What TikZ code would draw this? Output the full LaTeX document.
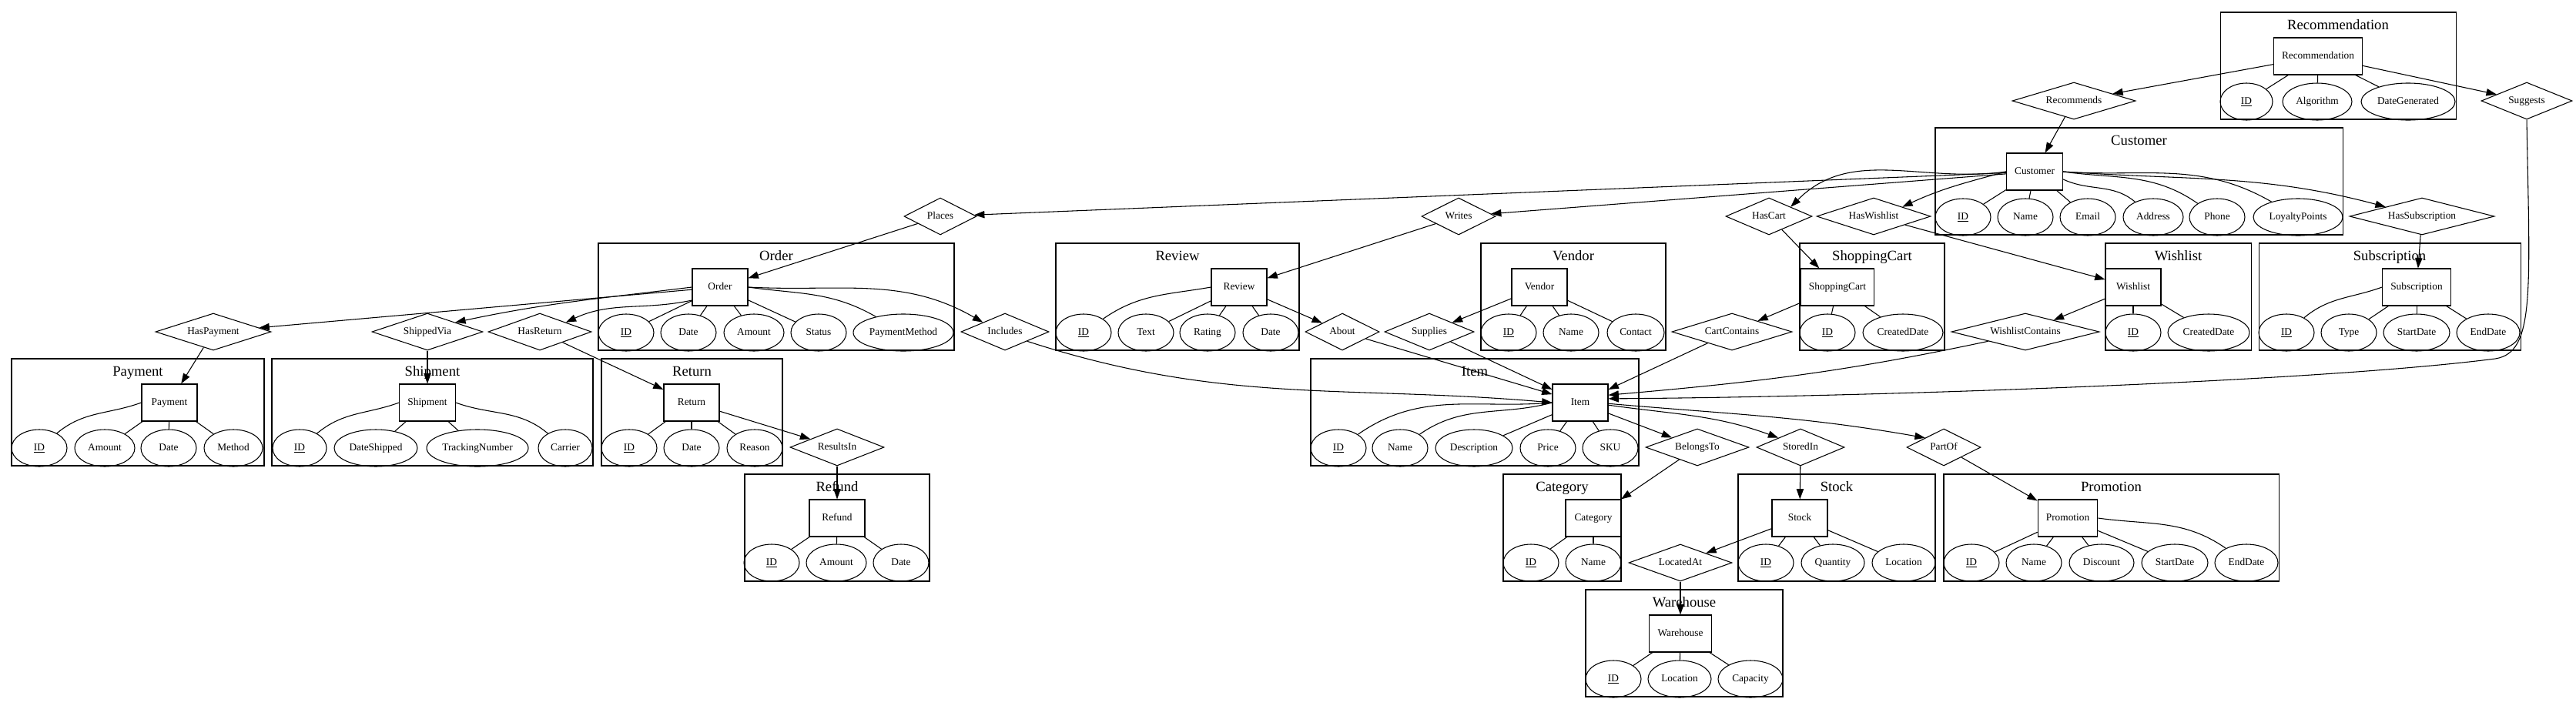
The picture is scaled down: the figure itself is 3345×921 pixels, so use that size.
\documentclass[tikz,border=0pt]{standalone}
\usepackage{fontspec}
\setmainfont{Liberation Serif}
\usetikzlibrary{shapes.geometric,arrows.meta}
\tikzset{
  every node/.style={font=\fontsize{10}{12}\selectfont},
  ent/.style={draw, rectangle, line width=0.8pt, minimum width=54pt, minimum height=36pt, inner xsep=8pt, inner ysep=2pt, text height=7pt, text depth=2pt},
  att/.style={draw, ellipse, line width=0.8pt, minimum width=54pt, minimum height=36pt, inner sep=0pt, text height=7pt, text depth=2pt},
  arx/.style={minimum width=#1*1.5pt},
  rel/.style={draw, diamond, aspect=3, line width=0.8pt, minimum height=36pt, inner sep=0pt, text height=7pt, text depth=2pt},
  ttl/.style={font=\fontsize{14}{16}\selectfont, inner sep=0pt, text height=9.6pt, text depth=3pt},
  clu/.style={draw, line width=0.8pt},
  lnk/.style={line width=0.8pt},
  arr/.style={line width=0.8pt, -{Triangle[length=10pt,width=7pt]}},
}
\newcommand\erclust[6]{%
  \draw[clu] (#2,#3) rectangle (#4,#5);
  \node[ttl] (#1) at ({(#2+#4)/2},{#3+18}) {#6};}
\begin{document}
\begin{tikzpicture}[x=0.75pt,y=-0.75pt]
\useasboundingbox (0,0) rectangle (3345,921);

% ---------- clusters ----------
\erclust{c-rec}{2883}{16}{3189}{155}{Recommendation}
\erclust{c-cust}{2513}{166}{3042}{305}{Customer}
\erclust{c-ord}{777}{316}{1239}{455}{Order}
\erclust{c-rev}{1371}{316}{1687}{455}{Review}
\erclust{c-ven}{1923}{316}{2163}{455}{Vendor}
\erclust{c-cart}{2337}{316}{2525}{455}{ShoppingCart}
\erclust{c-wish}{2734}{316}{2923}{455}{Wishlist}
\erclust{c-sub}{2933}{316}{3273}{455}{Subscription}
\erclust{c-pay}{15}{466}{343}{605}{Payment}
\erclust{c-ship}{353}{466}{770}{605}{Shipment}
\erclust{c-ret}{781}{466}{1016}{605}{Return}
\erclust{c-item}{1702}{466}{2128}{605}{Item}
\erclust{c-ref}{967}{616}{1207}{755}{Refund}
\erclust{c-cat}{1952}{616}{2105}{755}{Category}
\erclust{c-stock}{2257}{616}{2513}{755}{Stock}
\erclust{c-promo}{2524}{616}{2959}{755}{Promotion}
\erclust{c-wh}{2059}{766}{2315}{905}{Warehouse}

% ---------- entities ----------
\node[ent] (rec) at (3010,73) {Recommendation};
\node[ent] (cust) at (2642,223) {Customer};
\node[ent] (ord) at (935,373) {Order};
\node[ent] (rev) at (1609,373) {Review};
\node[ent] (ven) at (1999,373) {Vendor};
\node[ent] (cart) at (2386,373) {ShoppingCart};
\node[ent] (wish) at (2770,373) {Wishlist};
\node[ent] (sub) at (3138,373) {Subscription};
\node[ent] (pay) at (220,523) {Payment};
\node[ent] (ship) at (555,523) {Shipment};
\node[ent] (ret) at (898,523) {Return};
\node[ent] (item) at (2052,523) {Item};
\node[ent] (ref) at (1087,673) {Refund};
\node[ent] (cat) at (2069,673) {Category};
\node[ent] (stock) at (2337,673) {Stock};
\node[ent] (promo) at (2685,673) {Promotion};
\node[ent] (wh) at (2182,823) {Warehouse};

% ---------- attributes ----------
\node[att,arx=34] (rec-id) at (2917,132) {\underline{ID}};
\node[att,arx=45] (rec-alg) at (3009,132) {Algorithm};
\node[att,arx=61] (rec-dg) at (3127,132) {DateGenerated};

\node[att] (cust-id) at (2549,282) {\underline{ID}};
\node[att] (cust-name) at (2630,282) {Name};
\node[att] (cust-email) at (2711,282) {Email};
\node[att,arx=39] (cust-addr) at (2796,282) {Address};
\node[att] (cust-phone) at (2879,282) {Phone};
\node[att,arx=58] (cust-lp) at (2984,282) {LoyaltyPoints};

\node[att] (ord-id) at (813,432) {\underline{ID}};
\node[att] (ord-date) at (894,432) {Date};
\node[att,arx=39] (ord-amt) at (979,432) {Amount};
\node[att] (ord-status) at (1063,432) {Status};
\node[att,arx=65] (ord-pm) at (1173,432) {PaymentMethod};

\node[att] (rev-id) at (1407,432) {\underline{ID}};
\node[att] (rev-text) at (1488,432) {Text};
\node[att] (rev-rating) at (1568,432) {Rating};
\node[att] (rev-date) at (1650,432) {Date};

\node[att] (ven-id) at (1959,432) {\underline{ID}};
\node[att] (ven-name) at (2040,432) {Name};
\node[att,arx=37] (ven-contact) at (2124,432) {Contact};

\node[att] (cart-id) at (2373,432) {\underline{ID}};
\node[att,arx=52] (cart-cd) at (2471,432) {CreatedDate};

\node[att] (wish-id) at (2770,432) {\underline{ID}};
\node[att,arx=53] (wish-cd) at (2868,432) {CreatedDate};

\node[att] (sub-id) at (2969,432) {\underline{ID}};
\node[att] (sub-type) at (3050,432) {Type};
\node[att,arx=43] (sub-sd) at (3138,432) {StartDate};
\node[att,arx=41] (sub-ed) at (3231,432) {EndDate};

\node[att] (pay-id) at (51,582) {\underline{ID}};
\node[att,arx=39] (pay-amt) at (136,582) {Amount};
\node[att] (pay-date) at (219,582) {Date};
\node[att,arx=38] (pay-method) at (303,582) {Method};

\node[att,arx=35] (ship-id) at (389,582) {\underline{ID}};
\node[att,arx=54] (ship-ds) at (488,582) {DateShipped};
\node[att,arx=66] (ship-tn) at (620,582) {TrackingNumber};
\node[att,arx=35] (ship-car) at (734,582) {Carrier};

\node[att] (ret-id) at (817,582) {\underline{ID}};
\node[att] (ret-date) at (898,582) {Date};
\node[att] (ret-reason) at (980,582) {Reason};

\node[att] (item-id) at (1738,582) {\underline{ID}};
\node[att] (item-name) at (1818,582) {Name};
\node[att,arx=50] (item-desc) at (1914,582) {Description};
\node[att] (item-price) at (2010,582) {Price};
\node[att] (item-sku) at (2091,582) {SKU};

\node[att] (ref-id) at (1002,731) {\underline{ID}};
\node[att,arx=39] (ref-amt) at (1086,731) {Amount};
\node[att] (ref-date) at (1170,731) {Date};

\node[att] (cat-id) at (1988,731) {\underline{ID}};
\node[att] (cat-name) at (2069,731) {Name};

\node[att] (stock-id) at (2293,731) {\underline{ID}};
\node[att,arx=41] (stock-qty) at (2380,731) {Quantity};
\node[att,arx=41] (stock-loc) at (2472,731) {Location};

\node[att] (promo-id) at (2560,731) {\underline{ID}};
\node[att] (promo-name) at (2641,731) {Name};
\node[att,arx=42] (promo-disc) at (2729,731) {Discount};
\node[att,arx=43] (promo-sd) at (2824,731) {StartDate};
\node[att,arx=41] (promo-ed) at (2917,731) {EndDate};

\node[att] (wh-id) at (2095,882) {\underline{ID}};
\node[att,arx=41] (wh-loc) at (2181,882) {Location};
\node[att,arx=42] (wh-cap) at (2273,882) {Capacity};

% ---------- relationships ----------
\node[rel,arx=80] (recommends) at (2693,131) {Recommends};
\node[rel,arx=59] (suggests) at (3281,131) {Suggests};
\node[rel,arx=47] (places) at (1221,281) {Places};
\node[rel,arx=48] (writes) at (1894,281) {Writes};
\node[rel,arx=56] (hascart) at (2297,281) {HasCart};
\node[rel,arx=74] (haswish) at (2433,281) {HasWishlist};
\node[rel,arx=94] (hassub) at (3145,281) {HasSubscription};
\node[rel,arx=75] (haspay) at (277,431) {HasPayment};
\node[rel,arx=72] (shipvia) at (555,431) {ShippedVia};
\node[rel,arx=67] (hasret) at (701,431) {HasReturn};
\node[rel,arx=57] (incl) at (1305,431) {Includes};
\node[rel,arx=48] (about) at (1743,431) {About};
\node[rel,arx=58] (supplies) at (1856,431) {Supplies};
\node[rel,arx=78] (cartcont) at (2249,431) {CartContains};
\node[rel,arx=96] (wishcont) at (2630,431) {WishlistContains};
\node[rel,arx=61] (results) at (1087,581) {ResultsIn};
\node[rel,arx=67] (belongs) at (2204,581) {BelongsTo};
\node[rel,arx=57] (stored) at (2338,581) {StoredIn};
\node[rel,arx=48] (partof) at (2524,581) {PartOf};
\node[rel,arx=67] (located) at (2182,731) {LocatedAt};

% ---------- attribute links ----------
\foreach \a in {rec-id,rec-alg,rec-dg} \draw[lnk] (rec) -- (\a);
\foreach \a in {cust-id,cust-name,cust-email} \draw[lnk] (cust) -- (\a);
\draw[lnk] (cust.345) to[out=-25,in=140] (cust-addr);
\draw[lnk] (cust.east) to[out=-8,in=145] (cust-phone);
\draw[lnk] (cust.east) to[out=-4,in=150] (cust-lp);
\foreach \a in {ord-id,ord-date,ord-amt,ord-status} \draw[lnk] (ord) -- (\a);
\draw[lnk] (ord.east) to[out=-8,in=150] (ord-pm);
\draw[lnk] (rev.west) to[out=190,in=35] (rev-id);
\foreach \a in {rev-text,rev-rating,rev-date} \draw[lnk] (rev) -- (\a);
\foreach \a in {ven-id,ven-name,ven-contact} \draw[lnk] (ven) -- (\a);
\foreach \a in {cart-id,cart-cd} \draw[lnk] (cart) -- (\a);
\foreach \a in {wish-id,wish-cd} \draw[lnk] (wish) -- (\a);
\draw[lnk] (sub.west) to[out=200,in=40] (sub-id);
\foreach \a in {sub-type,sub-sd,sub-ed} \draw[lnk] (sub) -- (\a);
\draw[lnk] (pay.west) to[out=200,in=40] (pay-id);
\foreach \a in {pay-amt,pay-date,pay-method} \draw[lnk] (pay) -- (\a);
\draw[lnk] (ship.west) to[out=200,in=40] (ship-id);
\foreach \a in {ship-ds,ship-tn} \draw[lnk] (ship) -- (\a);
\draw[lnk] (ship.east) to[out=-20,in=140] (ship-car);
\foreach \a in {ret-id,ret-date,ret-reason} \draw[lnk] (ret) -- (\a);
\draw[lnk] (item.west) to[out=185,in=35] (item-id);
\draw[lnk] (item.west) to[out=195,in=35] (item-name);
\foreach \a in {item-desc,item-price,item-sku} \draw[lnk] (item) -- (\a);
\foreach \a in {ref-id,ref-amt,ref-date} \draw[lnk] (ref) -- (\a);
\foreach \a in {cat-id,cat-name} \draw[lnk] (cat) -- (\a);
\foreach \a in {stock-id,stock-qty,stock-loc} \draw[lnk] (stock) -- (\a);
\foreach \a in {promo-id,promo-name,promo-disc,promo-sd} \draw[lnk] (promo) -- (\a);
\draw[lnk] (promo.east) to[out=-8,in=145] (promo-ed);
\foreach \a in {wh-id,wh-loc,wh-cap} \draw[lnk] (wh) -- (\a);

% ---------- relationship connectors ----------
\draw[arr] (rec) -- (recommends);
\draw[arr] (recommends) -- (cust);
\draw[arr] (rec) -- (suggests);
\draw[arr] (suggests.south) .. controls (3285,380) and (3292,458) .. (3240,466)
           .. controls (3000,497) and (2400,516) .. (item.8);
\draw[arr] (cust) -- (places);
\draw[arr] (cust) -- (writes);
\draw[arr] (cust.west) to[out=188,in=45] (hascart.north east);
\draw[arr] (cust.west) to[out=195,in=25] (haswish.north east);
\draw[arr] (cust.east) to[out=-4,in=165] (hassub.north west);
\draw[arr] (places) -- (ord);
\draw[arr] (writes) -- (rev);
\draw[arr] (hascart) -- (cart);
\draw[arr] (haswish) -- (wish);
\draw[arr] (hassub) -- (sub);
\draw[arr] (ord) -- (haspay);
\draw[arr] (ord.west) to[out=187,in=12] (shipvia.north east);
\draw[arr] (ord.205) to[out=192,in=25] (hasret.north east);
\draw[arr] (ord.east) to[out=-3,in=150] (incl.north west);
\draw[arr] (incl.south east) to[out=-18,in=175] (item.west);
\draw[arr] (haspay) -- (pay);
\draw[arr] (shipvia) -- (ship);
\draw[arr] (hasret) -- (ret);
\draw[arr] (ret) -- (results);
\draw[arr] (results) -- (ref);
\draw[arr] (rev) -- (about);
\draw[arr] (about) -- (item);
\draw[arr] (ven) -- (supplies);
\draw[arr] (supplies) -- (item);
\draw[arr] (cart) -- (cartcont);
\draw[arr] (cartcont) -- (item);
\draw[arr] (wish) -- (wishcont);
\draw[arr] (wishcont.south west) to[out=192,in=5] (item.15);
\draw[arr] (item) -- (belongs);
\draw[arr] (belongs) -- (cat);
\draw[arr] (item.355) to[out=-8,in=160] (stored.north west);
\draw[arr] (item.358) to[out=-5,in=170] (partof.north west);
\draw[arr] (stored) -- (stock);
\draw[arr] (partof) -- (promo);
\draw[arr] (stock) -- (located);
\draw[arr] (located) -- (wh);
\end{tikzpicture}
\end{document}
